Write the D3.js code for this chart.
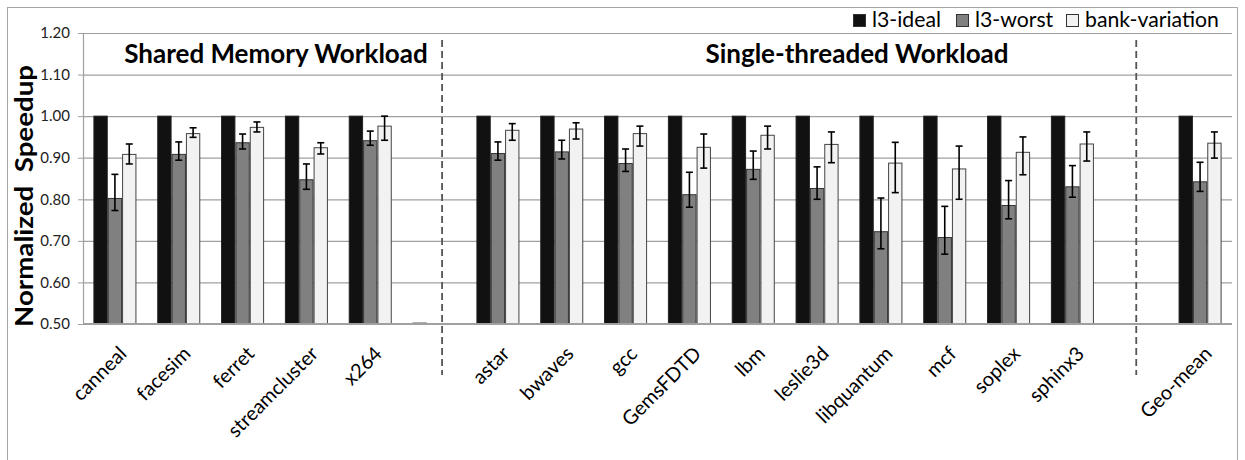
<!DOCTYPE html>
<html><head><meta charset="utf-8">
<script src="https://cdn.jsdelivr.net/npm/d3@7"></script>
<style>
body{margin:0;background:#fff}
text{font-family:Lato,"Open Sans",sans-serif}
</style>
</head><body>
<svg id="c" width="1245" height="460"></svg>
<script>
// ---- data ----
const categories = ["canneal","facesim","ferret","streamcluster","x264","","astar","bwaves","gcc","GemsFDTD","lbm","leslie3d","libquantum","mcf","soplex","sphinx3","","Geo-mean"];
const seriesNames = ["l3-ideal","l3-worst","bank-variation"];
const l3Ideal   = [1,1,1,1,1,0.5,1,1,1,1,1,1,1,1,1,1,null,1];
const l3Worst   = [0.802,0.908,0.936,0.847,0.941,null,0.910,0.914,0.886,0.811,0.872,0.826,0.722,0.708,0.785,0.830,null,0.842];
const l3WorstHi = [0.860,0.938,0.957,0.885,0.964,null,0.938,0.942,0.921,0.865,0.916,0.878,0.803,0.783,0.845,0.881,null,0.889];
const l3WorstLo = [0.773,0.894,0.921,0.824,0.930,null,0.894,0.897,0.867,0.781,0.848,0.800,0.681,0.668,0.753,0.805,null,0.819];
const bankVar   = [0.908,0.958,0.973,0.924,0.976,null,0.966,0.969,0.958,0.925,0.954,0.932,0.887,0.873,0.913,0.933,null,0.935];
const bankVarHi = [0.933,0.972,0.986,0.936,1.000,null,0.982,0.984,0.976,0.957,0.976,0.962,0.937,0.928,0.950,0.962,null,0.962];
const bankVarLo = [0.885,0.949,0.962,0.909,0.942,null,0.942,0.945,0.928,0.875,0.921,0.888,0.816,0.800,0.859,0.892,null,0.899];
const yTicks = [0.50,0.60,0.70,0.80,0.90,1.00,1.10,1.20];
const groupTitles = ["Shared Memory Workload","Single-threaded Workload"];
const yTitle = "Normalized\u00a0\u00a0Speedup";

// ---- layout ----
const svg = d3.select("#c");
const L=83, R=1232, T=33, B=324;
const fills = ["#111111","#808080","#f2f2f2"];
const strokes = ["#222","#333","#444"];

// fit a font size so that a given string reaches a target width
function fitSize(str, target, weight){
  const t = svg.append("text").attr("font-size",20).attr("font-weight",weight||"normal").text(str);
  const w = t.node().getComputedTextLength(); t.remove();
  return 20*target/w;
}

svg.append("rect").attr("x",7.5).attr("y",7.5).attr("width",1230).attr("height",460)
  .attr("fill","#fff").attr("stroke","#a6a6a6").attr("stroke-width",1);

const x = d3.scaleBand().domain(d3.range(categories.length)).range([L,R]).paddingInner(0.326).paddingOuter(0.163);
const xs = d3.scaleBand().domain(seriesNames).range([0,x.bandwidth()]);
const y = d3.scaleLinear().domain([0.5,1.2]).range([B,T]);

// gridlines
const grid = svg.append("g").attr("transform",`translate(${L},0)`)
  .call(d3.axisLeft(y).tickValues(yTicks).tickSize(-(R-L)).tickFormat(""));
grid.select(".domain").remove();
grid.selectAll("line").attr("stroke","#a0a0a0").attr("stroke-width",1.2);

// y axis
const ya = svg.append("g").attr("transform",`translate(${L},0)`)
  .call(d3.axisLeft(y).tickValues(yTicks).tickSize(5).tickPadding(8).tickFormat(d3.format(".2f")));
ya.select(".domain").attr("stroke","#a0a0a0").attr("stroke-width",1.2);
ya.selectAll("line").attr("stroke","#a0a0a0");
ya.selectAll("text").attr("font-size",15).attr("fill","#222").style("font-family","Lato");

// bars
const series = [
  {name:seriesNames[0], v:l3Ideal},
  {name:seriesNames[1], v:l3Worst, hi:l3WorstHi, lo:l3WorstLo},
  {name:seriesNames[2], v:bankVar, hi:bankVarHi, lo:bankVarLo}
];
const gBars = svg.append("g");
series.forEach((s,si)=>{
  s.v.forEach((v,i)=>{
    if(v==null) return;
    const x0 = x(i)+xs(s.name), w = xs.bandwidth();
    const h = y(0.5)-y(v);
    if(h<=0){
      gBars.append("line").attr("x1",x0).attr("x2",x0+w).attr("y1",y(v)-1).attr("y2",y(v)-1)
        .attr("stroke","#777").attr("stroke-width",1.2);
    } else {
      gBars.append("rect").attr("x",x0+0.5).attr("y",y(v)).attr("width",w-1).attr("height",h)
        .attr("fill",fills[si]).attr("stroke",strokes[si]).attr("stroke-width",1);
    }
    if(s.hi){
      const cx = x0+w/2;
      const eg = gBars.append("g").attr("stroke","#000").attr("stroke-width",1.6);
      eg.append("line").attr("x1",cx).attr("x2",cx).attr("y1",y(s.hi[i])).attr("y2",y(s.lo[i]));
      eg.append("line").attr("x1",cx-3.5).attr("x2",cx+3.5).attr("y1",y(s.hi[i])).attr("y2",y(s.hi[i]));
      eg.append("line").attr("x1",cx-3.5).attr("x2",cx+3.5).attr("y1",y(s.lo[i])).attr("y2",y(s.lo[i]));
    }
  });
});

// baseline
svg.append("line").attr("x1",L).attr("x2",R).attr("y1",y(0.5)).attr("y2",y(0.5))
  .attr("stroke","#a0a0a0").attr("stroke-width",2);

// separators
const sepX = [x(5)+x.bandwidth()/2+8, x(16)+x.bandwidth()/2];
sepX.forEach(sx=>{
  svg.append("line").attr("x1",sx).attr("x2",sx).attr("y1",40).attr("y2",375)
    .attr("stroke","#555").attr("stroke-width",1.8).attr("stroke-dasharray","7,4");
});

// group titles
const titleX = [276, 857];
groupTitles.forEach((t,i)=>{
  svg.append("text").attr("x",titleX[i]).attr("y",63).attr("text-anchor","middle")
    .attr("font-size",26).attr("font-weight","bold").attr("fill","#000").text(t);
});

// x labels
const labelSize = fitSize("streamcluster", 118);
categories.forEach((c,i)=>{
  if(!c) return;
  const cx = x(i)+x.bandwidth()/2;
  svg.append("text").attr("transform",`translate(${cx+13},${355}) rotate(-45)`)
    .attr("text-anchor","end").attr("font-size",labelSize).attr("fill","#000").text(c);
});

// y title
svg.append("text").attr("transform",`translate(33,196) rotate(-90)`).attr("text-anchor","middle")
  .attr("font-size",24).attr("font-weight","bold").attr("fill","#000")
  .attr("textLength",262).attr("lengthAdjust","spacingAndGlyphs").text(yTitle);

// legend
const legSize = fitSize("bank-variation", 134);
const legX = [853, 956, 1066];
seriesNames.forEach((n,i)=>{
  svg.append("rect").attr("x",legX[i]+0.5).attr("y",14.5).attr("width",12).attr("height",12)
    .attr("fill",fills[i]).attr("stroke","#333").attr("stroke-width",1);
  svg.append("text").attr("x",legX[i]+19).attr("y",27).attr("font-size",legSize).attr("fill","#000").text(n);
});
</script>
</body></html>
